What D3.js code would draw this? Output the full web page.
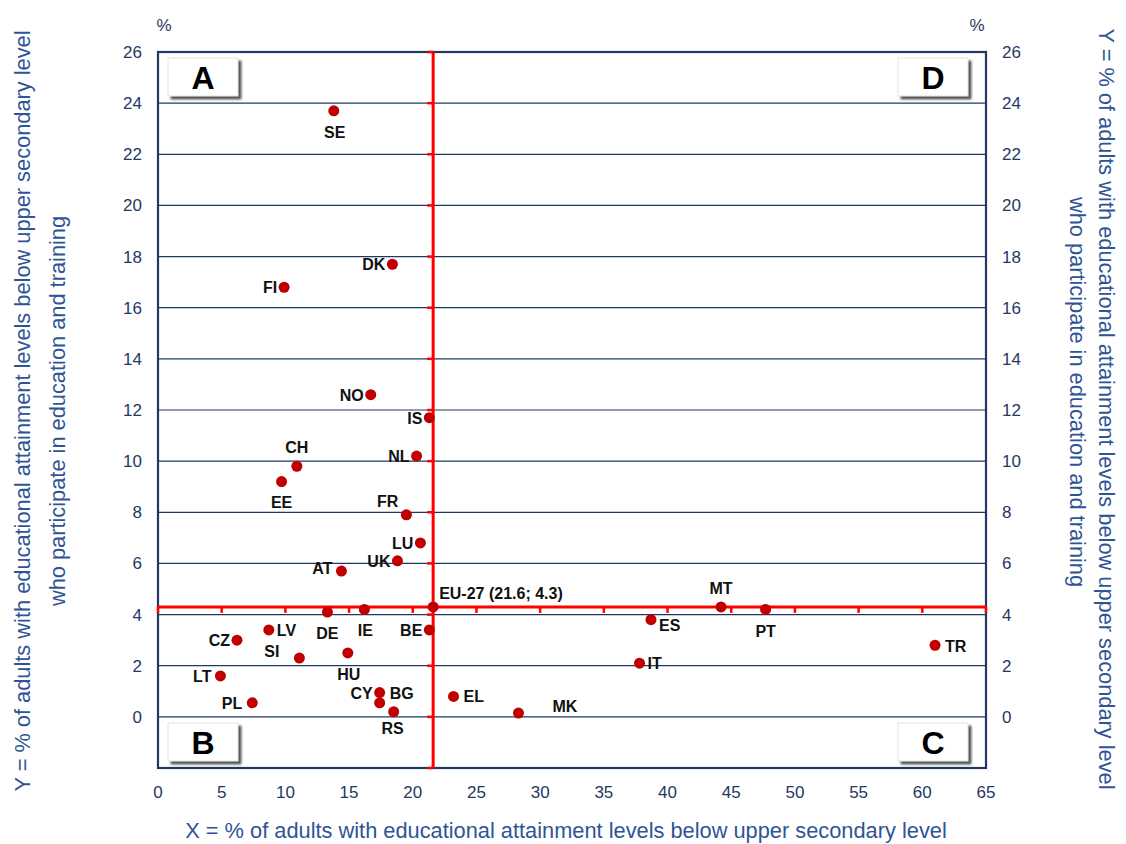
<!DOCTYPE html>
<html>
<head>
<meta charset="utf-8">
<script src="https://cdn.jsdelivr.net/npm/d3@7"></script>
<style>
    body { margin: 0; background: #fff; }
    svg { display: block; }
    .tick-label { font-family: "Liberation Sans Narrow", "Arial Narrow", sans-serif; font-size: 17px; fill: #1f3864; }
    .axis-title { font-family: "Liberation Sans Narrow", "Arial Narrow", sans-serif; font-size: 21.8px; fill: #2f5496; }
    .country { font-family: "Liberation Sans", Arial, sans-serif; font-size: 16px; font-weight: bold; fill: #111; }
    .quad { font-family: "Liberation Sans", Arial, sans-serif; font-size: 32px; font-weight: bold; fill: #000; }
</style>
</head>
<body>
<svg id="chart" width="1126" height="844"></svg>
<script>
/**
 * Data: country codes with X (% adults below upper secondary) and Y (% of those in education/training).
 */
const countries = ['SE', 'DK', 'FI', 'NO', 'IS', 'NL', 'CH', 'EE', 'FR', 'LU', 'UK', 'AT',
    'DE', 'IE', 'BE', 'LV', 'CZ', 'SI', 'HU', 'LT', 'CY', 'BG', 'RS', 'PL',
    'EL', 'MK', 'IT', 'ES', 'MT', 'PT', 'TR'];
const xValues = [13.8, 18.4, 9.9, 16.7, 21.3, 20.3, 10.9, 9.7, 19.5, 20.6, 18.8, 14.4,
    13.3, 16.2, 21.3, 8.7, 6.2, 11.1, 14.9, 4.9, 17.4, 17.4, 18.5, 7.4,
    23.2, 28.3, 37.8, 38.7, 44.2, 47.7, 61.0];
const yValues = [23.7, 17.7, 16.8, 12.6, 11.7, 10.2, 9.8, 9.2, 7.9, 6.8, 6.1, 5.7,
    4.1, 4.2, 3.4, 3.4, 3.0, 2.3, 2.5, 1.6, 0.95, 0.55, 0.2, 0.55,
    0.8, 0.15, 2.1, 3.8, 4.3, 4.2, 2.8];
const euAverage = { label: 'EU-27 (21.6; 4.3)', x: 21.6, y: 4.3 };

const xTicks = d3.range(0, 66, 5);
const yTicks = d3.range(0, 27, 2);
const quadrants = ['A', 'B', 'C', 'D'];

const xTitle = 'X = % of adults with educational attainment levels below upper secondary level';
const yTitle = ['Y = % of adults with educational attainment levels below upper secondary level',
    'who participate in education and training'];

/**
 * Label placement (style only): offset from the dot and anchor.
 */
const labelPos = {
    SE: [1, 27, 'middle'], DK: [-7, 6, 'end'], FI: [-7, 6, 'end'], NO: [-7, 6, 'end'],
    IS: [-7, 6, 'end'], NL: [-7, 6, 'end'], CH: [0, -13, 'middle'], EE: [0, 26, 'middle'],
    FR: [-8, -8, 'end'], LU: [-7, 6, 'end'], UK: [-7, 6, 'end'], AT: [-9, 3, 'end'],
    DE: [0, 27, 'middle'], IE: [1, 27, 'middle'], BE: [-7, 6, 'end'], LV: [8, 6, 'start'],
    CZ: [-7, 6, 'end'], SI: [-20, -1, 'end'], HU: [1, 27, 'middle'], LT: [-9, 6, 'end'],
    CY: [-7, 6, 'end'], BG: [10, -4, 'start'], RS: [-1, 22, 'middle'], PL: [-10, 6, 'end'],
    EL: [10, 6, 'start'], MK: [34, -1, 'start'], IT: [8, 6, 'start'], ES: [8, 11, 'start'],
    MT: [0, -13, 'middle'], PT: [0, 28, 'middle'], TR: [10, 7, 'start']
};

const navy = '#1f3864', red = '#ff0000', dotColor = '#c00000';

const svg = d3.select('#chart');
const x = d3.scaleLinear().domain([0, 65]).range([158, 986]);
const y = d3.scaleLinear().domain([-2, 26]).range([768, 52]);

const g = svg.append('g');

// Grid lines
g.append('g').selectAll('line').data(yTicks.slice(0, -1)).join('line')
    .attr('x1', x(0)).attr('x2', x(65))
    .attr('y1', d => y(d)).attr('y2', d => y(d))
    .attr('stroke', navy).attr('stroke-width', 1.2);

// Frame
g.append('rect')
    .attr('x', x(0)).attr('y', y(26))
    .attr('width', x(65) - x(0)).attr('height', y(-2) - y(26))
    .attr('fill', 'none').attr('stroke', navy).attr('stroke-width', 2.2);

// Tick labels left / right / bottom
g.append('g').selectAll('text').data(yTicks).join('text')
    .attr('class', 'tick-label')
    .attr('x', x(0) - 16).attr('y', d => y(d) + 6)
    .attr('text-anchor', 'end').text(d => d);
g.append('g').selectAll('text').data(yTicks).join('text')
    .attr('class', 'tick-label')
    .attr('x', x(65) + 16).attr('y', d => y(d) + 6)
    .attr('text-anchor', 'start').text(d => d);
g.append('g').selectAll('text').data(xTicks).join('text')
    .attr('class', 'tick-label')
    .attr('x', d => x(d)).attr('y', y(-2) + 30)
    .attr('text-anchor', 'middle').text(d => d);

g.append('text').attr('class', 'tick-label').attr('x', 164).attr('y', 31).attr('text-anchor', 'middle').text('%');
g.append('text').attr('class', 'tick-label').attr('x', 977).attr('y', 31).attr('text-anchor', 'middle').text('%');

// Axis titles
g.append('text').attr('class', 'axis-title')
    .attr('x', 566).attr('y', 838)
    .attr('text-anchor', 'middle').text(xTitle);

const leftTitle = g.append('g').attr('transform', 'translate(0,411) rotate(-90)');
leftTitle.append('text').attr('class', 'axis-title').attr('x', 0).attr('y', 30)
    .attr('text-anchor', 'middle').text(yTitle[0]);
leftTitle.append('text').attr('class', 'axis-title').attr('x', 0).attr('y', 65)
    .attr('text-anchor', 'middle').text(yTitle[1]);

const rightTitle = g.append('g').attr('transform', 'translate(1126,409) rotate(90)');
rightTitle.append('text').attr('class', 'axis-title').attr('x', 0).attr('y', 27)
    .attr('text-anchor', 'middle').text(yTitle[0]);
rightTitle.append('text').attr('class', 'axis-title').attr('x', -17).attr('y', 56)
    .attr('text-anchor', 'middle').text(yTitle[1]);

// EU average cross lines with ticks
const cross = g.append('g');
cross.append('line')
    .attr('x1', x(euAverage.x)).attr('x2', x(euAverage.x))
    .attr('y1', y(26)).attr('y2', y(-2))
    .attr('stroke', red).attr('stroke-width', 3);
cross.append('line')
    .attr('x1', x(0)).attr('x2', x(65))
    .attr('y1', y(euAverage.y)).attr('y2', y(euAverage.y))
    .attr('stroke', red).attr('stroke-width', 3);
cross.selectAll('.vt').data(yTicks.concat([-2])).join('line').attr('class', 'vt')
    .attr('x1', x(euAverage.x) - 6).attr('x2', x(euAverage.x))
    .attr('y1', d => y(d)).attr('y2', d => y(d))
    .attr('stroke', red).attr('stroke-width', 2.5);
cross.selectAll('.ht').data(xTicks).join('line').attr('class', 'ht')
    .attr('x1', d => x(d)).attr('x2', d => x(d))
    .attr('y1', y(euAverage.y)).attr('y2', y(euAverage.y) + 6)
    .attr('stroke', red).attr('stroke-width', 2.5);

// Quadrant boxes
const quadBox = { w: 70, h: 38 };
const quadPos = {
    A: [x(0) + 10, y(26) + 6], D: [x(65) - 88, y(26) + 6],
    B: [x(0) + 10, y(-2) - 45], C: [x(65) - 88, y(-2) - 45]
};
const defs = svg.append('defs');
const shadow = defs.append('filter').attr('id', 'shadow').attr('x', '-20%').attr('y', '-20%').attr('width', '150%').attr('height', '160%');
shadow.append('feDropShadow').attr('dx', 3).attr('dy', 3).attr('stdDeviation', 1.2)
    .attr('flood-color', '#333').attr('flood-opacity', 0.85);

const quads = g.append('g').selectAll('g').data(quadrants).join('g')
    .attr('transform', d => 'translate(' + quadPos[d][0] + ',' + quadPos[d][1] + ')');
quads.append('rect')
    .attr('width', quadBox.w).attr('height', quadBox.h)
    .attr('fill', '#fff').attr('stroke', '#ddd').attr('stroke-width', 0.8)
    .attr('filter', 'url(#shadow)');
quads.append('text').attr('class', 'quad')
    .attr('x', quadBox.w / 2).attr('y', quadBox.h / 2 + 12)
    .attr('text-anchor', 'middle').text(d => d);

// Points
const points = countries.map((c, i) => ({ code: c, x: xValues[i], y: yValues[i] }));

const dots = g.append('g');
dots.selectAll('circle').data(points).join('circle')
    .attr('cx', d => x(d.x)).attr('cy', d => y(d.y)).attr('r', 5.5)
    .attr('fill', dotColor);
dots.append('circle')
    .attr('cx', x(euAverage.x)).attr('cy', y(euAverage.y)).attr('r', 5.5)
    .attr('fill', dotColor);

g.append('g').selectAll('text').data(points).join('text')
    .attr('class', 'country')
    .attr('x', d => x(d.x) + labelPos[d.code][0])
    .attr('y', d => y(d.y) + labelPos[d.code][1])
    .attr('text-anchor', d => labelPos[d.code][2])
    .text(d => d.code);

g.append('text').attr('class', 'country')
    .attr('x', x(euAverage.x) + 6).attr('y', y(euAverage.y) - 8)
    .text(euAverage.label);
</script>
</body>
</html>
